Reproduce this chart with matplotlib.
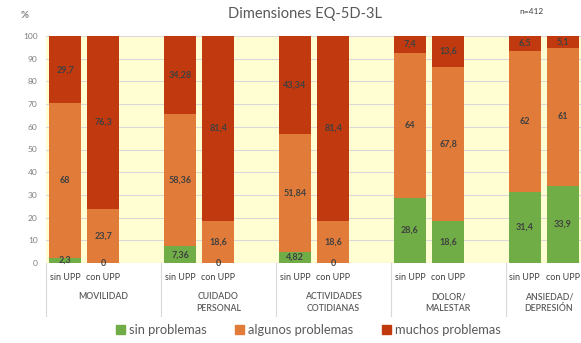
import matplotlib
matplotlib.use('Agg')
import matplotlib.pyplot as plt
import matplotlib.transforms as mtransforms
from matplotlib.patches import Patch

plt.rcParams['font.family'] = ['Lato', 'DejaVu Sans']

# datos por dimensión: sin UPP / con UPP
grupos = ['MOVILIDAD', 'CUIDADO\nPERSONAL', 'ACTIVIDADES\nCOTIDIANAS', 'DOLOR/\nMALESTAR', 'ANSIEDAD/\nDEPRESIÓN']
subgrupos = ['sin UPP', 'con UPP']
sin_problemas = [2.3, 0, 7.36, 0, 4.82, 0, 28.6, 18.6, 31.4, 33.9]
algunos_problemas = [68, 23.7, 58.36, 18.6, 51.84, 18.6, 64, 67.8, 62, 61]
muchos_problemas = [29.7, 76.3, 34.28, 81.4, 43.34, 81.4, 7.4, 13.6, 6.5, 5.1]
etiquetas_sin = ['2,3', '0', '7,36', '0', '4,82', '0', '28,6', '18,6', '31,4', '33,9']
etiquetas_alg = ['68', '23,7', '58,36', '18,6', '51,84', '18,6', '64', '67,8', '62', '61']
etiquetas_muc = ['29,7', '76,3', '34,28', '81,4', '43,34', '81,4', '7,4', '13,6', '6,5', '5,1']

verde = '#70AD47'
naranja = '#E07B39'
rojo = '#C0390F'
gris = '#7F7F7F'

fig = plt.figure(figsize=(5.81, 3.43), dpi=100)
ax = fig.add_axes([46 / 581, 80 / 343, 535 / 581, 227 / 343])
ax.set_facecolor('#FFFDD2')

# 3 huecos por grupo, el tercero queda vacío
x = []
for g in range(len(grupos)):
    x += [3 * g, 3 * g + 1]

w = 0.835
ax.bar(x, sin_problemas, w, color=verde, zorder=2)
ax.bar(x, algunos_problemas, w, bottom=sin_problemas, color=naranja, zorder=2)
base = [a + b for a, b in zip(sin_problemas, algunos_problemas)]
ax.bar(x, muchos_problemas, w, bottom=base, color=rojo, zorder=2)

txt = dict(ha='center', va='center', fontsize=6.5, fontweight='bold', color='#404040', zorder=3)
for i in range(len(x)):
    ax.text(x[i], sin_problemas[i] / 2, etiquetas_sin[i], **txt)
    ax.text(x[i], sin_problemas[i] + algunos_problemas[i] / 2, etiquetas_alg[i], **txt)
    ax.text(x[i], base[i] + muchos_problemas[i] / 2, etiquetas_muc[i], **txt)

xmax = 13.47
ax.set_xlim(-0.5, xmax)
ax.set_ylim(0, 100)
ax.set_yticks(range(0, 101, 10))
ax.tick_params(axis='y', length=0, labelsize=6, labelcolor=gris, pad=6)
ax.yaxis.grid(True, color='#D9D9D9', lw=0.8, zorder=1)
ax.set_axisbelow(True)
for s in ax.spines.values():
    s.set_visible(False)

ax.set_xticks(x)
ax.set_xticklabels(subgrupos * len(grupos))
ax.tick_params(axis='x', length=0, labelsize=6.5, labelcolor='#404040', pad=7)

trans = mtransforms.blended_transform_factory(ax.transData, ax.transAxes)
ax.axhline(0, color='#D9D9D9', lw=0.8, zorder=1)
for g in range(len(grupos)):
    izq = 3 * g - 0.5
    der = min(izq + 3, xmax + 0.3)
    ax.plot([izq, izq], [0, -0.235], transform=trans,
            color='#D9D9D9', lw=0.8, clip_on=False)
    ax.text((izq + der) / 2, -0.128, grupos[g], transform=trans, ha='center', va='top',
            fontsize=6.3, fontweight='semibold', color='#595959', linespacing=1.45)

fig.text(25 / 581, 1 - 16 / 343, '%', ha='center', va='center', fontsize=7,
         fontweight='bold', color=gris)
fig.text(305 / 581, 1 - 14 / 343, 'Dimensiones EQ-5D-3L', ha='center', va='center',
         fontsize=10.5, color='#595959')
fig.text(532 / 581, 1 - 12 / 343, 'n=412', ha='center', va='center', fontsize=6,
         color='#404040')

handles = [Patch(color=verde, label='sin problemas'),
           Patch(color=naranja, label='algunos problemas'),
           Patch(color=rojo, label='muchos problemas')]
ax.legend(handles=handles, loc='center', bbox_to_anchor=(0.49, -0.295), ncol=3,
          frameon=False, fontsize=9.3, handlelength=0.7, handleheight=0.7,
          handletextpad=0.3, columnspacing=2.2, labelcolor='#595959')

fig.savefig('out.png', dpi=100)
